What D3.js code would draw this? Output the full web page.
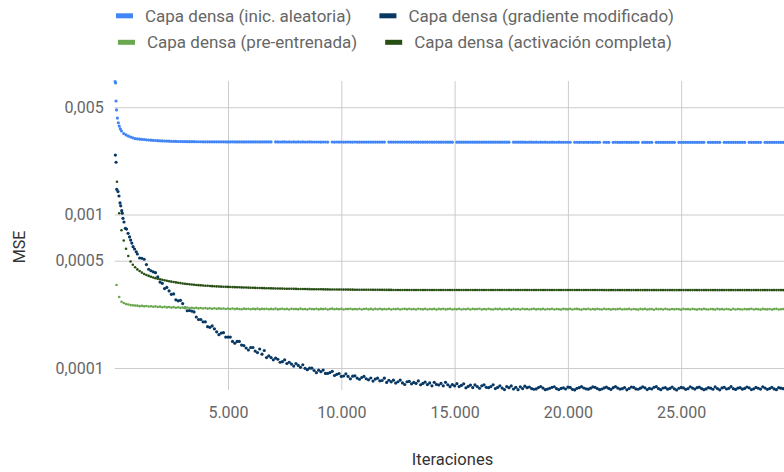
<!DOCTYPE html>
<html>
<head>
<meta charset="utf-8">
<script src="https://cdn.jsdelivr.net/npm/d3@7"></script>
<style>
  body { margin: 0; background: #fff; }
  svg { display: block; font-family: Roboto, "Noto Sans", sans-serif; }
</style>
</head>
<body>
<svg id="chart" width="784" height="472"></svg>
<script>
// Series names and colours, in drawing / legend order
const seriesNames = [
  "Capa densa (inic. aleatoria)",
  "Capa densa (gradiente modificado)",
  "Capa densa (pre-entrenada)",
  "Capa densa (activación completa)"
];
const seriesColors = ["#4285f4", "#073763", "#6aa84f", "#274e13"];

const xTicks = [5000, 10000, 15000, 20000, 25000];
const yTicks = [0.0001, 0.0005, 0.001, 0.005];

// After the warm-up phase the MSE is logged every 100 iterations, from 1000 on
const gridStart = 1000;
const gridStep = 100;

// Warm-up samples: [iteration, MSE]
const warmupAleatoria = [
  [20, 7.33e-3], [40, 7.19e-3], [60, 5.49e-3], [80, 4.80e-3], [120, 4.25e-3],
  [160, 3.96e-3], [200, 3.77e-3], [250, 3.61e-3], [300, 3.50e-3], [400, 3.37e-3],
  [500, 3.30e-3], [600, 3.245e-3], [700, 3.198e-3], [800, 3.161e-3], [900, 3.126e-3]
];
const warmupGradiente = [
  [30, 2.44e-3], [60, 2.19e-3], [90, 1.46e-3], [145, 1.41e-3], [190, 1.32e-3],
  [235, 1.19e-3], [265, 1.14e-3], [310, 1.06e-3], [335, 1.02e-3], [365, 9.45e-4],
  [410, 8.94e-4], [470, 8.13e-4], [520, 8.04e-4], [590, 7.54e-4], [655, 7.14e-4],
  [705, 6.82e-4], [755, 6.52e-4], [810, 6.17e-4], [875, 5.96e-4], [950, 5.72e-4]
];
const warmupPreentrenada = [
  [80, 3.47e-4], [200, 2.90e-4], [300, 2.70e-4], [400, 2.65e-4], [500, 2.61e-4],
  [600, 2.59e-4], [700, 2.57e-4], [800, 2.56e-4], [900, 2.55e-4]
];
const warmupActivacion = [
  [100, 1.636e-3], [200, 1.02e-3], [300, 7.9e-4], [400, 6.77e-4], [500, 5.98e-4],
  [600, 5.37e-4], [700, 4.94e-4], [800, 4.71e-4], [900, 4.53e-4]
];

// Logged MSE from iteration 1000 (null = sample missing from the log)
const mseAleatoria = [
  3.112e-3, 3.098e-3, 3.090e-3, 3.080e-3, 3.068e-3, 3.057e-3, 3.050e-3, 3.042e-3, 3.035e-3, 3.028e-3,
  3.021e-3, 3.016e-3, 3.012e-3, 3.008e-3, 3.004e-3, 3.000e-3, 2.997e-3, 2.994e-3, 2.991e-3, 2.989e-3,
  2.987e-3, 2.985e-3, 2.983e-3, 2.982e-3, 2.981e-3, 2.980e-3, 2.979e-3, 2.978e-3, 2.978e-3, 2.977e-3,
  2.977e-3, 2.976e-3, 2.976e-3, 2.975e-3, 2.975e-3, 2.975e-3, 2.974e-3, 2.974e-3, 2.974e-3, 2.973e-3,
  2.973e-3, 2.972e-3, 2.974e-3, 2.972e-3, 2.971e-3, 2.973e-3, 2.971e-3, 2.972e-3, 2.970e-3, 2.972e-3,
  2.971e-3, 2.970e-3, 2.972e-3, 2.970e-3, 2.971e-3, 2.969e-3, 2.971e-3, 2.970e-3, 2.969e-3, 2.971e-3,
  null, 2.969e-3, 2.970e-3, 2.968e-3, 2.970e-3, 2.969e-3, 2.968e-3, 2.970e-3, 2.968e-3, 2.969e-3,
  2.968e-3, 2.969e-3, 2.967e-3, 2.969e-3, 2.968e-3, 2.967e-3, 2.969e-3, 2.967e-3, 2.968e-3, 2.967e-3,
  2.968e-3, 2.966e-3, 2.968e-3, 2.967e-3, 2.966e-3, null, 2.967e-3, 2.966e-3, 2.968e-3, 2.966e-3,
  2.967e-3, 2.966e-3, 2.965e-3, 2.967e-3, 2.966e-3, 2.965e-3, 2.967e-3, 2.965e-3, 2.966e-3, 2.965e-3,
  2.966e-3, 2.965e-3, 2.964e-3, 2.966e-3, 2.965e-3, 2.964e-3, 2.966e-3, 2.964e-3, 2.965e-3, 2.964e-3,
  null, 2.964e-3, 2.963e-3, 2.965e-3, 2.964e-3, 2.963e-3, 2.965e-3, 2.963e-3, 2.964e-3, 2.963e-3,
  2.964e-3, 2.962e-3, 2.964e-3, 2.963e-3, 2.962e-3, 2.964e-3, 2.962e-3, 2.963e-3, 2.962e-3, 2.963e-3,
  2.962e-3, 2.961e-3, 2.963e-3, 2.962e-3, 2.961e-3, 2.963e-3, 2.961e-3, 2.962e-3, 2.961e-3, 2.962e-3,
  null, 2.961e-3, 2.960e-3, 2.962e-3, 2.961e-3, 2.960e-3, 2.962e-3, 2.960e-3, 2.961e-3, 2.960e-3,
  2.961e-3, 2.960e-3, 2.959e-3, 2.961e-3, 2.960e-3, 2.959e-3, 2.961e-3, 2.959e-3, 2.960e-3, 2.959e-3,
  2.960e-3, 2.958e-3, 2.960e-3, 2.959e-3, 2.958e-3, null, 2.959e-3, 2.958e-3, 2.960e-3, 2.958e-3,
  2.959e-3, 2.958e-3, 2.957e-3, 2.959e-3, 2.958e-3, 2.957e-3, 2.959e-3, 2.957e-3, 2.958e-3, 2.957e-3,
  2.958e-3, 2.957e-3, 2.956e-3, 2.958e-3, 2.957e-3, 2.956e-3, 2.958e-3, 2.956e-3, 2.957e-3, 2.956e-3,
  2.957e-3, 2.956e-3, null, 2.957e-3, 2.956e-3, 2.955e-3, 2.957e-3, 2.955e-3, 2.956e-3, 2.955e-3,
  2.956e-3, 2.955e-3, 2.957e-3, 2.955e-3, 2.956e-3, null, 2.956e-3, 2.955e-3, 2.954e-3, null,
  2.955e-3, 2.956e-3, 2.954e-3, 2.955e-3, 2.954e-3, 2.956e-3, 2.954e-3, 2.955e-3, 2.954e-3, 2.955e-3,
  2.954e-3, 2.955e-3, null, 2.954e-3, 2.955e-3, 2.953e-3, 2.955e-3, 2.954e-3, null, 2.954e-3,
  2.955e-3, 2.953e-3, 2.954e-3, 2.955e-3, 2.953e-3, 2.954e-3, 2.953e-3, 2.955e-3, null, 2.954e-3,
  2.953e-3, 2.954e-3, 2.955e-3, 2.953e-3, 2.954e-3, 2.953e-3, 2.955e-3, 2.953e-3, 2.954e-3, 2.953e-3,
  2.954e-3, null, 2.953e-3, 2.954e-3, 2.952e-3, 2.954e-3, 2.953e-3, 2.954e-3, null, 2.953e-3,
  2.954e-3, 2.952e-3, 2.953e-3, 2.954e-3, 2.952e-3, 2.953e-3, 2.954e-3, 2.952e-3, 2.953e-3, null,
  2.953e-3, 2.954e-3, 2.952e-3, 2.953e-3, 2.952e-3, 2.954e-3, null, 2.953e-3, 2.952e-3, 2.953e-3,
  2.952e-3, 2.954e-3, 2.953e-3, 2.952e-3, 2.953e-3, 2.952e-3
];

const mseGradiente = [
  5.53e-4, 5.21e-4, 5.19e-4, 5.11e-4, 4.72e-4, 4.40e-4, 4.30e-4, 4.23e-4, 4.18e-4, 3.92e-4,
  3.63e-4, 3.56e-4, 3.29e-4, 3.35e-4, 3.18e-4, 3.02e-4, 3.04e-4, 2.78e-4, 2.74e-4, 2.76e-4,
  2.63e-4, 2.47e-4, 2.36e-4, 2.37e-4, 2.35e-4, 2.32e-4, 2.15e-4, 2.07e-4, 2.07e-4, 2.00e-4,
  2.00e-4, 1.86e-4, 1.84e-4, 1.88e-4, 1.80e-4, 1.72e-4, 1.65e-4, 1.69e-4, 1.70e-4, 1.59e-4,
  1.59e-4, 1.59e-4, 1.49e-4, 1.45e-4, 1.49e-4, 1.49e-4, 1.41e-4, 1.40e-4, 1.35e-4, 1.31e-4,
  1.36e-4, 1.36e-4, 1.29e-4, 1.26e-4, 1.33e-4, 1.23e-4, 1.30e-4, 1.17e-4, 1.20e-4, 1.17e-4,
  1.13e-4, 1.16e-4, 1.14e-4, 1.09e-4, 1.10e-4, 1.13e-4, 1.07e-4, 1.09e-4, 1.06e-4, 1.03e-4,
  1.07e-4, 1.04e-4, 1.01e-4, 1.05e-4, 9.96e-5, 9.75e-5, 9.97e-5, 9.97e-5, 9.63e-5, 9.33e-5,
  9.68e-5, 9.47e-5, 9.70e-5, 9.22e-5, 9.22e-5, 9.34e-5, 9.51e-5, 8.94e-5, 9.10e-5, 9.20e-5,
  8.81e-5, 8.87e-5, 9.15e-5, 8.81e-5, 8.50e-5, 8.85e-5, 8.89e-5, 8.60e-5, 8.45e-5, 8.67e-5,
  8.81e-5, 8.51e-5, 8.38e-5, 8.61e-5, 8.22e-5, 8.47e-5, 8.59e-5, 8.25e-5, 8.29e-5, 8.58e-5,
  8.06e-5, 8.32e-5, 8.13e-5, 8.33e-5, 7.98e-5, 8.14e-5, 8.34e-5, 8.00e-5, 7.81e-5, 8.14e-5,
  8.18e-5, 7.89e-5, 8.06e-5, 7.94e-5, 8.24e-5, 7.78e-5, 7.94e-5, 8.10e-5, 7.80e-5, 8.00e-5,
  7.65e-5, 8.07e-5, 7.82e-5, 7.75e-5, 7.93e-5, 7.66e-5, 8.07e-5, 7.78e-5, 7.56e-5, 7.80e-5,
  7.66e-5, 7.90e-5, 7.57e-5, 7.70e-5, 7.89e-5, 7.43e-5, 7.59e-5, 7.74e-5, 7.46e-5, 7.76e-5,
  7.58e-5, 7.38e-5, 7.66e-5, 7.77e-5, 7.48e-5, 7.44e-5, 7.57e-5, 7.78e-5, 7.35e-5, 7.47e-5,
  7.66e-5, 7.40e-5, 7.24e-5, 7.57e-5, 7.45e-5, 7.64e-5, 7.30e-5, 7.48e-5, 7.23e-5, 7.54e-5,
  7.34e-5, 7.61e-5, 7.44e-5, 7.52e-5, 7.35e-5, 7.27e-5, 7.31e-5, 7.46e-5, 7.58e-5, 7.40e-5,
  7.22e-5, 7.29e-5, 7.38e-5, 7.49e-5, 7.55e-5, 7.33e-5, 7.24e-5, 7.36e-5, 7.43e-5, 7.30e-5,
  7.51e-5, 7.47e-5, 7.26e-5, 7.20e-5, 7.37e-5, 7.45e-5, 7.56e-5, 7.41e-5, 7.32e-5, 7.28e-5,
  7.39e-5, 7.53e-5, 7.48e-5, 7.34e-5, 7.23e-5, 7.30e-5, 7.42e-5, 7.50e-5, 7.36e-5, 7.25e-5,
  7.44e-5, 7.57e-5, 7.40e-5, 7.29e-5, 7.33e-5, 7.46e-5, 7.21e-5, 7.35e-5, 7.52e-5, 7.47e-5,
  7.31e-5, 7.27e-5, 7.39e-5, 7.54e-5, 7.43e-5, 7.24e-5, 7.37e-5, 7.30e-5, 7.49e-5, 7.56e-5,
  7.34e-5, 7.22e-5, 7.41e-5, 7.45e-5, 7.28e-5, 7.36e-5, 7.51e-5, 7.32e-5, 7.19e-5, 7.38e-5,
  7.47e-5, 7.42e-5, 7.26e-5, 7.33e-5, 7.55e-5, 7.40e-5, 7.29e-5, 7.44e-5, 7.50e-5, 7.35e-5,
  7.23e-5, 7.31e-5, 7.46e-5, 7.39e-5, 7.27e-5, 7.53e-5, 7.34e-5, 7.21e-5, 7.42e-5, 7.48e-5,
  7.30e-5, 7.37e-5, 7.57e-5, 7.33e-5, 7.25e-5, 7.40e-5, 7.45e-5, 7.28e-5, 7.36e-5, 7.52e-5,
  7.43e-5, 7.24e-5, 7.32e-5, 7.47e-5, 7.38e-5, 7.29e-5, 7.54e-5, 7.41e-5, 7.26e-5, 7.35e-5,
  7.49e-5, 7.31e-5, 7.22e-5, 7.44e-5, 7.39e-5, 7.33e-5
];

const msePreentrenada = [
  2.548e-4, 2.530e-4, 2.541e-4, 2.522e-4, 2.536e-4, 2.515e-4, 2.527e-4, 2.506e-4, 2.520e-4, 2.498e-4,
  2.512e-4, 2.489e-4, 2.503e-4, 2.482e-4, 2.497e-4, 2.475e-4, 2.491e-4, 2.468e-4, 2.485e-4, 2.463e-4,
  2.481e-4, 2.459e-4, 2.476e-4, 2.455e-4, 2.470e-4, 2.449e-4, 2.466e-4, 2.445e-4, 2.461e-4, 2.440e-4,
  2.457e-4, 2.436e-4, 2.452e-4, 2.433e-4, 2.449e-4, 2.428e-4, 2.446e-4, 2.431e-4, 2.444e-4, 2.425e-4,
  2.442e-4, 2.422e-4, 2.440e-4, 2.419e-4, 2.437e-4, 2.426e-4, 2.415e-4, 2.436e-4, 2.421e-4, 2.433e-4,
  2.413e-4, 2.430e-4, 2.418e-4, 2.436e-4, 2.410e-4, 2.428e-4, 2.420e-4, 2.434e-4, 2.412e-4, 2.427e-4,
  2.417e-4, 2.438e-4, 2.409e-4, 2.425e-4, 2.431e-4, 2.414e-4, 2.429e-4, 2.408e-4, 2.433e-4, 2.419e-4,
  2.426e-4, 2.411e-4, 2.437e-4, 2.416e-4, 2.424e-4, 2.406e-4, 2.430e-4, 2.420e-4, 2.413e-4, 2.435e-4,
  2.409e-4, 2.427e-4, 2.418e-4, 2.432e-4, 2.405e-4, 2.423e-4, 2.436e-4, 2.412e-4, 2.428e-4, 2.416e-4,
  2.430e-4, 2.407e-4, 2.425e-4, 2.419e-4, 2.434e-4, 2.410e-4, 2.426e-4, 2.414e-4, 2.431e-4, 2.408e-4,
  2.422e-4, 2.433e-4, 2.411e-4, 2.427e-4, 2.404e-4, 2.429e-4, 2.417e-4, 2.435e-4, 2.409e-4, 2.424e-4,
  2.413e-4, 2.431e-4, 2.406e-4, 2.426e-4, 2.418e-4, 2.432e-4, 2.403e-4, 2.421e-4, 2.428e-4, 2.410e-4,
  2.434e-4, 2.415e-4, 2.425e-4, 2.405e-4, 2.430e-4, 2.419e-4, 2.411e-4, 2.433e-4, 2.408e-4, 2.423e-4,
  2.416e-4, 2.429e-4, 2.402e-4, 2.427e-4, 2.414e-4, 2.431e-4, 2.409e-4, 2.420e-4, 2.434e-4, 2.406e-4,
  2.425e-4, 2.412e-4, 2.430e-4, 2.404e-4, 2.422e-4, 2.417e-4, 2.432e-4, 2.407e-4, 2.428e-4, 2.413e-4,
  2.421e-4, 2.435e-4, 2.403e-4, 2.426e-4, 2.410e-4, 2.431e-4, 2.415e-4, 2.405e-4, 2.429e-4, 2.418e-4,
  2.433e-4, 2.408e-4, 2.424e-4, 2.412e-4, 2.430e-4, 2.401e-4, 2.427e-4, 2.416e-4, 2.422e-4, 2.406e-4,
  2.431e-4, 2.414e-4, 2.426e-4, 2.403e-4, 2.420e-4, 2.432e-4, 2.409e-4, 2.425e-4, 2.411e-4, 2.428e-4,
  2.404e-4, 2.423e-4, 2.416e-4, 2.430e-4, 2.407e-4, 2.426e-4, 2.413e-4, 2.402e-4, 2.429e-4, 2.418e-4,
  2.410e-4, 2.432e-4, 2.405e-4, 2.421e-4, 2.427e-4, 2.412e-4, 2.400e-4, 2.425e-4, 2.415e-4, 2.431e-4,
  2.406e-4, 2.422e-4, 2.409e-4, 2.428e-4, 2.417e-4, 2.403e-4, 2.430e-4, 2.413e-4, 2.424e-4, 2.401e-4,
  2.426e-4, 2.411e-4, 2.419e-4, 2.433e-4, 2.404e-4, 2.420e-4, 2.414e-4, 2.429e-4, 2.407e-4, 2.423e-4,
  2.416e-4, 2.402e-4, 2.427e-4, 2.410e-4, 2.431e-4, 2.405e-4, 2.418e-4, 2.424e-4, 2.399e-4, 2.428e-4,
  2.412e-4, 2.421e-4, 2.406e-4, 2.430e-4, 2.415e-4, 2.403e-4, 2.426e-4, 2.410e-4, 2.422e-4, 2.417e-4,
  2.400e-4, 2.429e-4, 2.413e-4, 2.420e-4, 2.405e-4, 2.427e-4, 2.416e-4, 2.402e-4, 2.424e-4, 2.409e-4,
  2.431e-4, 2.414e-4, 2.404e-4, 2.423e-4, 2.418e-4, 2.401e-4, 2.428e-4, 2.411e-4, 2.420e-4, 2.406e-4,
  2.425e-4, 2.413e-4, 2.399e-4, 2.429e-4, 2.408e-4, 2.421e-4, 2.415e-4, 2.403e-4, 2.426e-4, 2.410e-4,
  2.418e-4, 2.430e-4, 2.405e-4, 2.422e-4, 2.412e-4, 2.400e-4, 2.427e-4, 2.416e-4, 2.409e-4, 2.424e-4,
  2.402e-4, 2.419e-4, 2.428e-4, 2.407e-4, 2.414e-4, 2.421e-4
];

const mseActivacion = [
  4.389e-4, 4.285e-4, 4.184e-4, 4.098e-4, 4.037e-4, 3.981e-4, 3.927e-4, 3.886e-4, 3.851e-4, 3.817e-4,
  3.788e-4, 3.759e-4, 3.732e-4, 3.703e-4, 3.676e-4, 3.654e-4, 3.632e-4, 3.611e-4, 3.589e-4, 3.573e-4,
  3.556e-4, 3.540e-4, 3.524e-4, 3.514e-4, 3.499e-4, 3.488e-4, 3.477e-4, 3.467e-4, 3.456e-4, 3.446e-4,
  3.436e-4, 3.431e-4, 3.423e-4, 3.415e-4, 3.410e-4, 3.402e-4, 3.397e-4, 3.389e-4, 3.384e-4, 3.379e-4,
  3.375e-4, 3.371e-4, 3.367e-4, 3.363e-4, 3.359e-4, 3.355e-4, 3.351e-4, 3.347e-4, 3.343e-4, 3.339e-4,
  3.335e-4, 3.331e-4, 3.327e-4, 3.324e-4, 3.320e-4, 3.317e-4, 3.313e-4, 3.310e-4, 3.307e-4, 3.304e-4,
  3.301e-4, 3.298e-4, 3.295e-4, 3.292e-4, 3.290e-4, 3.287e-4, 3.285e-4, 3.282e-4, 3.280e-4, 3.278e-4,
  3.276e-4, 3.274e-4, 3.272e-4, 3.270e-4, 3.268e-4, 3.266e-4, 3.264e-4, 3.262e-4, 3.261e-4, 3.259e-4,
  3.257e-4, 3.256e-4, 3.254e-4, 3.253e-4, 3.251e-4, 3.250e-4, 3.249e-4, 3.247e-4, 3.246e-4, 3.245e-4,
  3.244e-4, 3.243e-4, 3.242e-4, 3.241e-4, 3.240e-4, 3.239e-4, 3.238e-4, 3.237e-4, 3.236e-4, 3.235e-4,
  3.234e-4, 3.233e-4, 3.233e-4, 3.232e-4, 3.231e-4, 3.231e-4, 3.230e-4, 3.229e-4, 3.229e-4, 3.228e-4,
  3.228e-4, 3.227e-4, 3.227e-4, 3.226e-4, 3.226e-4, 3.226e-4, 3.225e-4, 3.225e-4, 3.225e-4, 3.224e-4,
  3.224e-4, 3.224e-4, 3.224e-4, 3.223e-4, 3.223e-4, 3.223e-4, 3.223e-4, 3.223e-4, 3.222e-4, 3.222e-4,
  3.222e-4, 3.222e-4, 3.222e-4, 3.222e-4, 3.222e-4, 3.222e-4, 3.222e-4, 3.222e-4, 3.222e-4, 3.222e-4,
  3.222e-4, 3.222e-4, 3.222e-4, 3.222e-4, 3.221e-4, 3.221e-4, 3.221e-4, 3.221e-4, 3.221e-4, 3.221e-4,
  3.221e-4, 3.221e-4, 3.221e-4, 3.221e-4, 3.221e-4, 3.221e-4, 3.221e-4, 3.221e-4, 3.221e-4, 3.221e-4,
  3.221e-4, 3.221e-4, 3.221e-4, 3.221e-4, 3.221e-4, 3.221e-4, 3.220e-4, 3.220e-4, 3.220e-4, 3.220e-4,
  3.220e-4, 3.220e-4, 3.220e-4, 3.220e-4, 3.220e-4, 3.220e-4, 3.220e-4, 3.220e-4, 3.220e-4, 3.220e-4,
  3.220e-4, 3.220e-4, 3.220e-4, 3.220e-4, 3.220e-4, 3.220e-4, 3.220e-4, 3.220e-4, 3.220e-4, 3.220e-4,
  3.220e-4, 3.220e-4, 3.220e-4, 3.220e-4, 3.220e-4, 3.220e-4, 3.220e-4, 3.220e-4, 3.220e-4, 3.220e-4,
  3.220e-4, 3.220e-4, 3.220e-4, 3.220e-4, 3.220e-4, 3.220e-4, 3.219e-4, 3.219e-4, 3.219e-4, 3.219e-4,
  3.219e-4, 3.219e-4, 3.219e-4, 3.219e-4, 3.219e-4, 3.219e-4, 3.219e-4, 3.219e-4, 3.219e-4, 3.219e-4,
  3.219e-4, 3.219e-4, 3.219e-4, 3.219e-4, 3.219e-4, 3.219e-4, 3.219e-4, 3.219e-4, 3.219e-4, 3.219e-4,
  3.219e-4, 3.219e-4, 3.219e-4, 3.219e-4, 3.219e-4, 3.219e-4, 3.219e-4, 3.219e-4, 3.219e-4, 3.219e-4,
  3.219e-4, 3.219e-4, 3.219e-4, 3.219e-4, 3.219e-4, 3.219e-4, 3.219e-4, 3.219e-4, 3.219e-4, 3.219e-4,
  3.219e-4, 3.219e-4, 3.219e-4, 3.219e-4, 3.219e-4, 3.219e-4, 3.219e-4, 3.219e-4, 3.219e-4, 3.219e-4,
  3.219e-4, 3.219e-4, 3.219e-4, 3.219e-4, 3.219e-4, 3.219e-4, 3.219e-4, 3.219e-4, 3.219e-4, 3.219e-4,
  3.219e-4, 3.219e-4, 3.219e-4, 3.219e-4, 3.219e-4, 3.219e-4, 3.219e-4, 3.219e-4, 3.219e-4, 3.219e-4,
  3.219e-4, 3.219e-4, 3.219e-4, 3.219e-4, 3.219e-4, 3.219e-4
];

const warmups = [warmupAleatoria, warmupGradiente, warmupPreentrenada, warmupActivacion];
const logged = [mseAleatoria, mseGradiente, msePreentrenada, mseActivacion];
const dotRadius = [1.6, 1.6, 1.3, 1.3];

// ---- layout ----
const W = 784, H = 472;
const plot = { left: 114.7, right: 794.5, top: 81, bottom: 390 };

const svg = d3.select("#chart");

const esLocale = d3.formatLocale({ decimal: ",", thousands: ".", grouping: [3], currency: ["", " €"] });
const fmtX = esLocale.format(",.0f");
const fmtY = esLocale.format("~f");

const x = d3.scaleLinear().domain([0, 30000]).range([plot.left, plot.right]);
const y = d3.scaleLog().domain([7.19e-5, 7.41e-3]).range([plot.bottom, plot.top]);

// horizontal gridlines + y tick labels
const yAxis = svg.append("g")
  .attr("transform", `translate(${plot.left},0)`)
  .call(d3.axisLeft(y).tickValues(yTicks).tickFormat(fmtY)
    .tickSize(-(W - plot.left)).tickPadding(11));
yAxis.select(".domain").remove();
yAxis.selectAll(".tick line").attr("stroke", "#cccccc").attr("stroke-width", 1);
yAxis.selectAll(".tick text").attr("fill", "#666666").attr("font-size", 16)
  .attr("font-family", "Roboto, sans-serif");

// vertical gridlines + x tick labels
const xAxis = svg.append("g")
  .attr("transform", `translate(0,${plot.bottom})`)
  .call(d3.axisBottom(x).tickValues(xTicks).tickFormat(fmtX)
    .tickSize(-(plot.bottom - plot.top)).tickPadding(16.5));
xAxis.select(".domain").remove();
xAxis.selectAll(".tick line").attr("stroke", "#cccccc").attr("stroke-width", 1);
xAxis.selectAll(".tick text").attr("fill", "#666666").attr("font-size", 16)
  .attr("font-family", "Roboto, sans-serif");

// axis titles
svg.append("text")
  .attr("x", 452.5).attr("y", 465)
  .attr("text-anchor", "middle")
  .attr("font-size", 16.5).attr("fill", "#333333")
  .text("Iteraciones");

svg.append("text")
  .attr("transform", "translate(25,247) rotate(-90)")
  .attr("text-anchor", "middle")
  .attr("font-size", 16).attr("fill", "#333333")
  .text("MSE");

// points
const series = seriesNames.map((name, s) => {
  const pts = warmups[s].map(([it, v]) => ({ it, v }));
  logged[s].forEach((v, i) => {
    if (v != null) pts.push({ it: gridStart + i * gridStep, v });
  });
  return { name, color: seriesColors[s], r: dotRadius[s], pts };
});

const marks = svg.append("g");
series.forEach(sr => {
  marks.append("g")
    .attr("fill", sr.color)
    .selectAll("circle")
    .data(sr.pts)
    .join("circle")
    .attr("cx", d => x(d.it))
    .attr("cy", d => y(d.v))
    .attr("r", sr.r);
});

// legend: two rows, each centred
const legendRows = [[0, 1], [2, 3]];
const rowBaseline = [21.5, 48];
const swatchW = 17, swatchH = 5, swatchGap = 12, itemGap = 28, legendCenter = 395;

legendRows.forEach((row, r) => {
  const g = svg.append("g");
  const items = row.map(s => {
    const ig = g.append("g");
    ig.append("rect")
      .attr("width", swatchW).attr("height", swatchH)
      .attr("y", rowBaseline[r] - 8.2)
      .attr("fill", seriesColors[s]);
    const t = ig.append("text")
      .attr("x", swatchW + swatchGap).attr("y", rowBaseline[r])
      .attr("font-size", 17).attr("fill", "#666666")
      .text(seriesNames[s]);
    return { ig, w: swatchW + swatchGap + t.node().getComputedTextLength() };
  });
  const total = d3.sum(items, d => d.w) + itemGap * (items.length - 1);
  let cx = legendCenter - total / 2;
  items.forEach(it => {
    it.ig.attr("transform", `translate(${cx},0)`);
    cx += it.w + itemGap;
  });
});
</script>
</body>
</html>
